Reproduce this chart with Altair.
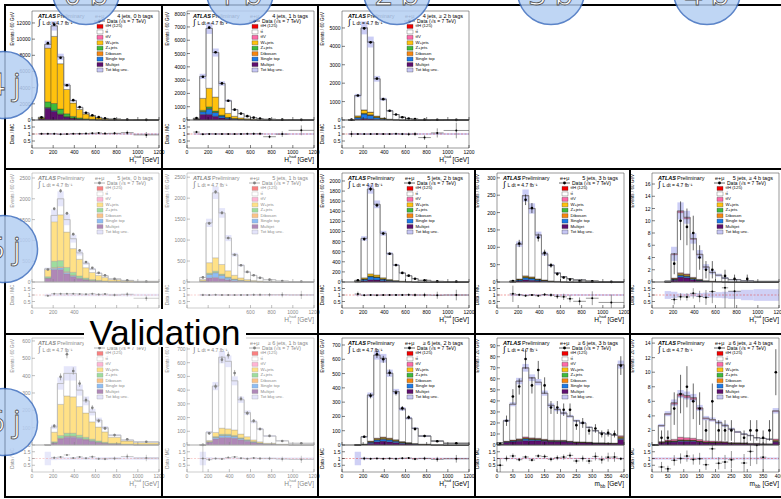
import math
import altair as alt
import pandas as pd

W, H = 781, 499
FONT = "Liberation Sans"

# ---------------- bin edges ----------------
EDGES_4J = [60, 120, 180, 240, 300, 360, 420, 480, 540, 600, 660, 720, 840, 960, 1200]
EDGES_5J = [120, 180, 240, 300, 360, 420, 480, 540, 600, 660, 720, 840, 960, 1200]
EDGES_6J = [120, 180, 240, 300, 360, 420, 480, 540, 600, 660, 720, 840, 960, 1200]
EDGES_MBB = [0, 20, 40, 60, 80, 100, 120, 140, 160, 180, 200, 220, 240, 260, 280, 300, 320, 340, 360, 380, 400]

# ---------------- 4 jets, 0 b ----------------
DATA_4J0B = [330, 9500, 11800, 7700, 4300, 2450, 1600, 900, 590, 350, 200, 110, 57, 20]
MJ_4J0B = [150, 1450, 1050, 650, 350, 200, 110, 60, 35, 20, 12, 6, 3, 1]
ST_4J0B = [5, 60, 80, 60, 40, 25, 15, 8, 5, 3, 2, 1, 0.5, 0.2]
DB_4J0B = [5, 40, 60, 50, 35, 22, 14, 8, 5, 3, 2, 1, 0.5, 0.2]
ZJ_4J0B = [40, 700, 850, 600, 350, 200, 120, 70, 45, 30, 18, 10, 5, 2]
WJ_4J0B = [120, 6650, 8300, 5600, 3000, 1650, 1050, 580, 380, 220, 130, 70, 35, 15]
TT_4J0B = [5, 450, 1300, 850, 550, 300, 250, 150, 90, 50, 30, 17, 8, 3]
UNC_4J0B = 0.05
# ---------------- 4 jets, 1 b ----------------
DATA_4J1B = [150, 3250, 6950, 5100, 2750, 1450, 780, 480, 290, 180, 110, 48, 25, 13]
MJ_4J1B = [60, 420, 420, 280, 150, 80, 45, 25, 15, 9, 5, 3, 1, 0.5]
ST_4J1B = [5, 200, 400, 280, 150, 80, 45, 25, 15, 9, 5, 3, 1.5, 0.5]
DB_4J1B = [2, 30, 50, 35, 20, 12, 7, 4, 2, 1, 1, 0.5, 0.2, 0.1]
ZJ_4J1B = [5, 80, 120, 80, 45, 25, 15, 8, 5, 3, 2, 1, 0.5, 0.2]
WJ_4J1B = [30, 900, 1400, 1050, 530, 300, 170, 95, 60, 35, 20, 12, 5, 2]
TT_4J1B = [30, 1650, 4500, 3350, 1850, 950, 500, 320, 190, 120, 75, 40, 17, 7]
UNC_4J1B = 0.06
# ---------------- 4 jets, >=2 b ----------------
DATA_4J2B = [20, 1330, 4980, 4220, 2250, 1130, 500, 300, 150, 80, 45, 19, 11, 5]
MJ_4J2B = [5, 40, 80, 60, 30, 15, 8, 4, 2, 1, 0.6, 0.3, 0.1, 0.05]
ST_4J2B = [2, 90, 250, 200, 100, 50, 22, 12, 7, 4, 2, 1, 0.5, 0.2]
DB_4J2B = [0.5, 5, 15, 12, 6, 3, 1.5, 0.8, 0.4, 0.2, 0.1, 0.05, 0.02, 0.01]
ZJ_4J2B = [0.5, 10, 20, 15, 8, 4, 2, 1, 0.5, 0.3, 0.2, 0.1, 0.05, 0.02]
WJ_4J2B = [2, 80, 180, 140, 70, 35, 15, 8, 5, 3, 2, 1, 0.5, 0.2]
TTV_4J2B = [0, 1, 5, 5, 3, 2, 1, 0.5, 0.3, 0.2, 0.1, 0.05, 0.02, 0.01]
TT_4J2B = [10, 1100, 4450, 3800, 2020, 1020, 450, 270, 135, 72, 40, 23, 9, 3.5]
TTH_4J2B = [0, 0.5, 2, 2, 1.5, 1, 0.5, 0.3, 0.2, 0.1, 0.05, 0.02, 0.01, 0.005]
UNC_4J2B = 0.07
# ---------------- 5 jets, 0 b ----------------
DATA_5J0B = [300, 1760, 2190, 1650, 1150, 760, 480, 340, 220, 160, 75, 40, 12]
MJ_5J0B = [90, 300, 300, 200, 130, 80, 50, 30, 20, 12, 7, 4, 2]
ST_5J0B = [5, 30, 40, 30, 20, 12, 8, 5, 3, 2, 1, 0.5, 0.2]
DB_5J0B = [3, 20, 25, 20, 13, 9, 6, 4, 2, 1.5, 1, 0.5, 0.2]
ZJ_5J0B = [30, 150, 150, 100, 70, 45, 30, 20, 13, 9, 5, 3, 1]
WJ_5J0B = [170, 950, 1100, 850, 570, 400, 250, 170, 120, 85, 42, 22, 9]
TT_5J0B = [20, 150, 385, 300, 237, 154, 106, 81, 52, 40, 19, 8, 3.6]
UNC_5J0B = 0.09
# ---------------- 5 jets, 1 b ----------------
DATA_5J1B = [110, 1400, 2150, 1650, 1050, 650, 400, 240, 160, 100, 55, 25, 10]
MJ_5J1B = [20, 100, 110, 80, 50, 30, 18, 11, 7, 4, 2, 1, 0.5]
ST_5J1B = [5, 80, 110, 80, 50, 30, 18, 10, 6, 4, 2, 1, 0.4]
DB_5J1B = [1, 6, 8, 6, 4, 2, 1.5, 1, 0.5, 0.3, 0.2, 0.1, 0.05]
ZJ_5J1B = [3, 25, 30, 22, 14, 9, 5, 3, 2, 1.5, 0.8, 0.4, 0.2]
WJ_5J1B = [30, 250, 320, 230, 150, 90, 55, 33, 22, 14, 7, 3, 1.3]
TT_5J1B = [50, 950, 1550, 1230, 780, 490, 300, 180, 120, 75, 42, 19, 7.5]
UNC_5J1B = 0.07
# ---------------- 5 jets, 2 b ----------------
DATA_5J2B = [35, 850, 1840, 1520, 960, 560, 335, 180, 125, 65, 33, 13, 6]
MJ_5J2B = [5, 25, 45, 40, 25, 15, 9, 5, 3, 2, 1, 0.4, 0.2]
ST_5J2B = [3, 30, 60, 50, 32, 18, 10, 6, 4, 2, 1, 0.4, 0.2]
DB_5J2B = [0.5, 3, 6, 5, 3, 2, 1, 0.6, 0.4, 0.2, 0.1, 0.05, 0.02]
ZJ_5J2B = [1, 5, 10, 8, 5, 3, 2, 1, 0.6, 0.3, 0.2, 0.1, 0.05]
WJ_5J2B = [3, 20, 40, 35, 20, 12, 7, 4, 2.5, 1.5, 0.8, 0.3, 0.15]
TT_5J2B = [20, 780, 1680, 1400, 880, 510, 305, 162, 113, 59, 30, 12, 5.4]
UNC_5J2B = 0.05
# ---------------- 5 jets, 3 b ----------------
DATA_5J3B = [3, 111, 237, 213, 128, 84, 48, 23, 13, 7, 3, 2, 0.5]
MJ_5J3B = [0.5, 3, 6, 5, 3, 2, 1, 0.6, 0.4, 0.2, 0.1, 0.05, 0.02]
ST_5J3B = [0.3, 3, 6, 5, 3, 2, 1, 0.6, 0.3, 0.2, 0.1, 0.05, 0.02]
DB_5J3B = [0.05, 0.5, 1, 0.8, 0.5, 0.3, 0.2, 0.1, 0.05, 0.03, 0.02, 0.01, 0.005]
ZJ_5J3B = [0.1, 0.5, 1, 0.8, 0.5, 0.3, 0.2, 0.1, 0.05, 0.03, 0.02, 0.01, 0.005]
WJ_5J3B = [0.3, 1.5, 3, 2.5, 1.5, 1, 0.5, 0.3, 0.2, 0.1, 0.05, 0.02, 0.01]
TTV_5J3B = [0, 0.3, 0.8, 0.7, 0.5, 0.3, 0.2, 0.1, 0.05, 0.03, 0.02, 0.01, 0.005]
TT_5J3B = [1.5, 100, 230, 196, 126, 75, 45, 24, 14, 9.2, 5.5, 2.5, 1.1]
TTH_5J3B = [0, 0.5, 1.2, 1.0, 0.6, 0.4, 0.2, 0.1, 0.05, 0.03, 0.02, 0.01, 0.005]
UNC_5J3B = 0.07
# ---------------- 5 jets, >=4 b ----------------
DATA_5J4B = [0, 3, 10, 9, 8, 4, 2, 2, 0, 1, 0.5, 0.5, 0]
MJ_5J4B = [0.02, 0.3, 0.8, 0.7, 0.4, 0.2, 0.1, 0.08, 0.05, 0.03, 0.02, 0.01, 0.005]
ST_5J4B = [0.01, 0.15, 0.3, 0.25, 0.15, 0.1, 0.05, 0.03, 0.02, 0.01, 0.005, 0.003, 0.001]
DB_5J4B = [0, 0.02, 0.05, 0.04, 0.02, 0.01, 0.005, 0.003, 0.002, 0.001, 0.001, 0, 0]
ZJ_5J4B = [0, 0.03, 0.06, 0.05, 0.03, 0.02, 0.01, 0.005, 0.003, 0.002, 0.001, 0, 0]
WJ_5J4B = [0.01, 0.1, 0.2, 0.18, 0.1, 0.06, 0.03, 0.02, 0.01, 0.005, 0.003, 0.001, 0.001]
TTV_5J4B = [0, 0.05, 0.1, 0.1, 0.06, 0.04, 0.02, 0.01, 0.01, 0.005, 0.003, 0.001, 0.001]
TT_5J4B = [0.1, 3.8, 9.8, 9.0, 6.2, 4.0, 2.2, 1.4, 1.0, 0.58, 0.35, 0.18, 0.09]
TTH_5J4B = [0, 0.15, 0.3, 0.25, 0.15, 0.1, 0.05, 0.03, 0.02, 0.01, 0.005, 0.003, 0.001]
UNC_5J4B = [0.3, 0.25, 0.12, 0.1, 0.12, 0.15, 0.18, 0.2, 0.22, 0.25, 0.3, 0.4, 0.45]
# ---------------- >=6 jets, 0 b ----------------
DATA_6J0B = [0, 110, 393, 523, 427, 354, 259, 215, 140, 96, 57, 33, 19]
MJ_6J0B = [0.5, 12, 35, 45, 45, 38, 30, 22, 15, 10, 6, 3, 1.5]
ST_6J0B = [0, 1, 3, 4, 4, 3, 2.5, 2, 1.5, 1, 0.6, 0.3, 0.15]
DB_6J0B = [0, 1, 2.5, 3, 3, 2.5, 2, 1.5, 1, 0.7, 0.4, 0.2, 0.1]
ZJ_6J0B = [0.2, 5, 14, 16, 16, 13, 10, 8, 6, 4, 2.5, 1.2, 0.6]
WJ_6J0B = [1, 55, 180, 215, 210, 165, 140, 100, 80, 60, 35, 18, 11]
TT_6J0B = [0.3, 30, 120, 130, 135, 95, 70, 56, 40, 24, 12, 6, 5]
UNC_6J0B = [0.5, 0.12, 0.1, 0.1, 0.1, 0.1, 0.1, 0.1, 0.1, 0.1, 0.1, 0.1, 0.1]
# ---------------- >=6 jets, 1 b ----------------
DATA_6J1B = [1, 85, 427, 622, 655, 524, 337, 232, 176, 117, 66, 29, 12]
MJ_6J1B = [0.3, 20, 45, 55, 55, 50, 38, 28, 18, 11, 6, 3, 1.3]
ST_6J1B = [0, 3, 10, 14, 14, 12, 9, 6, 4, 2.5, 1.5, 0.7, 0.3]
DB_6J1B = [0, 0.5, 1.5, 2, 2, 1.8, 1.3, 1, 0.6, 0.4, 0.2, 0.1, 0.05]
ZJ_6J1B = [0, 1.5, 5, 7, 7, 6, 4.5, 3.5, 2.5, 1.5, 0.8, 0.4, 0.2]
WJ_6J1B = [0.2, 8, 30, 45, 40, 40, 27, 22, 12, 8, 4, 2, 1]
TT_6J1B = [0.5, 60, 338, 517, 492, 358, 250, 175, 133, 93, 53, 24, 10]
UNC_6J1B = [0.5, 0.1, 0.07, 0.07, 0.07, 0.07, 0.07, 0.07, 0.07, 0.07, 0.08, 0.08, 0.08]
# ---------------- >=6 jets, 2 b ----------------
DATA_6J2B = [0, 58, 345, 635, 600, 506, 366, 257, 194, 112, 63, 26, 12]
MJ_6J2B = [0, 3, 12, 22, 27, 22, 17, 11, 8, 5, 3, 1.2, 0.5]
ST_6J2B = [0, 2, 8, 13, 14, 13, 10, 6, 4, 2.5, 1.5, 0.6, 0.3]
DB_6J2B = [0, 0.3, 1.5, 2.5, 3, 3, 2.5, 1.5, 1, 0.6, 0.4, 0.2, 0.1]
ZJ_6J2B = [0, 0.3, 1, 1.5, 2, 1.5, 1.2, 1, 0.7, 0.4, 0.3, 0.1, 0.05]
WJ_6J2B = [0, 1, 4, 7, 8, 7, 5, 3.5, 2.5, 1.5, 1, 0.4, 0.2]
TTV_6J2B = [0, 0.2, 1, 2, 2, 1.8, 1.4, 1, 0.7, 0.4, 0.3, 0.1, 0.05]
TT_6J2B = [0.2, 51, 322, 580, 550, 453, 336, 228, 170, 106, 56, 25, 11]
TTH_6J2B = [0, 0.1, 0.5, 1.2, 1.3, 1.2, 1, 0.7, 0.5, 0.3, 0.2, 0.1, 0.05]
UNC_6J2B = [0.5, 0.08, 0.05, 0.05, 0.05, 0.05, 0.05, 0.05, 0.05, 0.05, 0.06, 0.06, 0.06]
# ---------------- >=6 jets, 3 b (m_bb) ----------------
DATA_6J3B = [1, 22, 44, 53, 78, 54, 68, 54, 34, 34, 32, 32, 18, 20, 13, 15, 10, 11, 10, 72]
MJ_6J3B = [0.5, 2.5, 3, 3.5, 4, 4, 4, 3.5, 3, 3, 3, 2.5, 2, 2, 1.8, 1.5, 1.5, 1.3, 1.2, 5]
ST_6J3B = [0.2, 0.4, 0.6, 0.8, 1.5, 1, 0.8, 0.7, 0.5, 0.5, 0.5, 0.4, 0.3, 0.3, 0.3, 0.2, 0.2, 0.2, 0.2, 1]
DB_6J3B = [0, 0.1, 0.2, 0.3, 0.3, 0.3, 0.3, 0.2, 0.2, 0.2, 0.2, 0.1, 0.1, 0.1, 0.1, 0.1, 0.1, 0.1, 0.1, 0.5]
ZJ_6J3B = [0, 0.1, 0.1, 0.2, 0.2, 0.2, 0.2, 0.1, 0.1, 0.1, 0.1, 0.1, 0.1, 0.1, 0.1, 0.05, 0.05, 0.05, 0.05, 0.3]
WJ_6J3B = [0, 0.2, 0.3, 0.4, 0.5, 0.5, 0.4, 0.4, 0.3, 0.3, 0.3, 0.2, 0.2, 0.2, 0.2, 0.1, 0.1, 0.1, 0.1, 0.8]
TTV_6J3B = [0, 0.2, 0.3, 0.4, 0.8, 0.5, 0.4, 0.3, 0.3, 0.2, 0.2, 0.2, 0.2, 0.1, 0.1, 0.1, 0.1, 0.1, 0.1, 0.8]
TT_6J3B = [1.3, 18.4, 32.3, 52.1, 62.3, 54.1, 50.6, 41.5, 31.4, 27.7, 24.5, 22.4, 19, 17.1, 13.3, 10.85, 8.9, 8.1, 7.2, 64]
TTH_6J3B = [0, 0.1, 0.2, 0.3, 0.4, 0.4, 0.3, 0.3, 0.2, 0.2, 0.2, 0.1, 0.1, 0.1, 0.1, 0.1, 0.05, 0.05, 0.05, 0.5]
UNC_6J3B = 0.05
# ---------------- >=6 jets, >=4 b (m_bb) ----------------
DATA_6J4B = [0, 1, 1, 5, 7, 8, 6, 5, 2, 6, 2, 2, 2, 0, 1, 2, 2, 1, 2, 10]
MJ_6J4B = [0, 0.3, 0.4, 0.4, 0.5, 0.5, 0.5, 0.4, 0.3, 0.3, 0.3, 0.3, 0.2, 0.2, 0.2, 0.15, 0.15, 0.1, 0.1, 0.4]
ST_6J4B = [0, 0.05, 0.08, 0.1, 0.12, 0.1, 0.1, 0.08, 0.06, 0.05, 0.05, 0.04, 0.03, 0.03, 0.02, 0.02, 0.02, 0.02, 0.02, 0.1]
DB_6J4B = [0, 0.01, 0.02, 0.02, 0.03, 0.03, 0.02, 0.02, 0.02, 0.02, 0.02, 0.01, 0.01, 0.01, 0.01, 0.01, 0.01, 0.01, 0.01, 0.05]
ZJ_6J4B = [0, 0.01, 0.02, 0.02, 0.02, 0.02, 0.02, 0.02, 0.01, 0.01, 0.01, 0.01, 0.01, 0.01, 0.01, 0.01, 0.01, 0.01, 0.01, 0.03]
WJ_6J4B = [0, 0.02, 0.03, 0.04, 0.05, 0.05, 0.04, 0.04, 0.03, 0.03, 0.03, 0.02, 0.02, 0.02, 0.02, 0.01, 0.01, 0.01, 0.01, 0.08]
TTV_6J4B = [0, 0.08, 0.12, 0.2, 0.35, 0.3, 0.25, 0.2, 0.15, 0.12, 0.1, 0.08, 0.06, 0.05, 0.04, 0.03, 0.03, 0.03, 0.02, 0.15]
TT_6J4B = [0, 2.13, 3.51, 4.82, 5.63, 5.5, 5.32, 4.16, 3.01, 2.87, 2.51, 2.18, 1.82, 1.44, 1.17, 1.05, 0.76, 0.71, 0.61, 3.79]
TTH_6J4B = [0, 0.08, 0.12, 0.2, 0.3, 0.3, 0.25, 0.18, 0.12, 0.1, 0.08, 0.06, 0.05, 0.04, 0.03, 0.03, 0.02, 0.02, 0.02, 0.1]
UNC_6J4B = 0.08

# ---------------- legend / colours ----------------
STACK_ORDER = ["Multijet", "Single top", "Diboson", "Z+jets", "W+jets", "tt̄V", "tt̄", "tt̄H (125)"]
LEGEND_ITEMS = ["tt̄H (125)", "tt̄", "tt̄V", "W+jets", "Z+jets", "Diboson", "Single top", "Multijet", "Tot bkg unc."]
LEGEND_COLORS = ["#f20000", "#ffffff", "#ff6aa8", "#ffc20e", "#3dbb3d", "#f7860f", "#1c7ae8", "#5e0f6e", "#c6c6f4"]
DATA_LABEL = "Data (√s = 7 TeV)"
LEGEND_ROWS = [DATA_LABEL] + LEGEND_ITEMS
RATIO_TICKS = [0.5, 1, 1.5]
RATIO_TICK_LABELS = ["0.5", "1", "1.5"]

# panel registry: key, row, col, header, edges, y max, y step, variable
PANELS = [
    ("4j0b", 0, 0, "4 jets, 0 b tags", EDGES_4J, 13480, 2000, "ht"),
    ("4j1b", 0, 1, "4 jets, 1 b tags", EDGES_4J, 8200, 1000, "ht"),
    ("4j2b", 0, 2, "4 jets, ≥ 2 b tags", EDGES_4J, 5920, 1000, "ht"),
    ("5j0b", 1, 0, "5 jets, 0 b tags", EDGES_5J, 2620, 500, "ht"),
    ("5j1b", 1, 1, "5 jets, 1 b tags", EDGES_5J, 2600, 500, "ht"),
    ("5j2b", 1, 2, "5 jets, 2 b tags", EDGES_5J, 2158, 200, "ht"),
    ("5j3b", 1, 3, "5 jets, 3 b tags", EDGES_5J, 314, 50, "ht"),
    ("5j4b", 1, 4, "5 jets, ≥ 4 b tags", EDGES_5J, 17.8, 2, "ht"),
    ("6j0b", 2, 0, "≥ 6 jets, 0 b tags", EDGES_6J, 617, 100, "ht"),
    ("6j1b", 2, 1, "≥ 6 jets, 1 b tags", EDGES_6J, 780, 100, "ht"),
    ("6j2b", 2, 2, "≥ 6 jets, 2 b tags", EDGES_6J, 749, 100, "ht"),
    ("6j3b", 2, 3, "≥ 6 jets, 3 b tags", EDGES_MBB, 97, 10, "mbb"),
    ("6j4b", 2, 4, "≥ 6 jets, ≥ 4 b tags", EDGES_MBB, 14.7, 2, "mbb"),
]

G = globals()


def comps_for(key):
    K = key.upper()
    names = {"Multijet": "MJ", "Single top": "ST", "Diboson": "DB", "Z+jets": "ZJ",
             "W+jets": "WJ", "tt̄V": "TTV", "tt̄": "TT", "tt̄H (125)": "TTH"}
    out = {}
    for comp, pre in names.items():
        nm = f"{pre}_{K}"
        if nm in G:
            out[comp] = G[nm]
    return out, G[f"DATA_{K}"], G[f"UNC_{K}"]


# ---------------- layout geometry ----------------
ROW_TOP = [11, 173, 338]
ROW_ZERO = [120, 282, 445]
ROW_RBOT = [148, 308, 472]
COL_LEFT = [32, 187, 342, 497, 652]
PW = 127
FADED = {(1, 0), (1, 1), (2, 0), (2, 1)}

ONE = pd.DataFrame({"k": [0]})
COLOR_SCALE = alt.Scale(domain=LEGEND_ITEMS, range=LEGEND_COLORS)
BOX = "M-1,-0.667L1,-0.667L1,0.667L-1,0.667Z"


def txt(x, y, s, size, align="left", baseline="middle", weight="normal", style="normal",
        color="black", font=FONT, **kw):
    return alt.Chart(ONE).mark_text(text=s, fontSize=size, align=align, baseline=baseline,
                                    fontWeight=weight, fontStyle=style, color=color, font=font,
                                    **kw).encode(x=alt.value(x), y=alt.value(y))


def line(x1, x2, y1, y2, color="black", width=2):
    return alt.Chart(ONE).mark_rule(color=color, strokeWidth=width).encode(
        x=alt.value(x1), x2=alt.value(x2), y=alt.value(y1), y2=alt.value(y2))


def fmt(v):
    return str(int(v)) if float(v).is_integer() else str(v)


def panel(key, row, col, header, edges, ymax, ystep, var):
    comps, data, unc = comps_for(key)
    n = len(edges) - 1
    uncs = unc if isinstance(unc, list) else [unc] * n
    L = COL_LEFT[col]
    R = L + PW
    top, zero, rbot = ROW_TOP[row], ROW_ZERO[row], ROW_RBOT[row]
    xmax = 400 if var == "mbb" else 1200
    xstep = 50 if var == "mbb" else 200
    unit = 20 if var == "mbb" else 60

    # stacked components
    base = [0.0] * n
    rows = []
    for comp in STACK_ORDER:
        vals = comps.get(comp)
        if vals is None:
            continue
        for i in range(n):
            rows.append(dict(x0=edges[i], x1=edges[i + 1], y0=min(base[i], ymax),
                             y1=min(base[i] + vals[i], ymax), comp=comp))
            base[i] += vals[i]
    stack_df = pd.DataFrame(rows)
    tot = base

    brow = []
    for i in range(n):
        d = data[i]
        t = tot[i]
        u = uncs[i]
        e = math.sqrt(d) if d > 0 else 0
        rec = dict(x0=edges[i], x1=edges[i + 1], xc=0.5 * (edges[i] + edges[i + 1]),
                   lo=t * (1 - u), hi=min(t * (1 + u), ymax), d=d,
                   elo=max(d - e, 0), ehi=min(d + e, ymax),
                   rblo=max(1 - u, 0), rbhi=min(1 + u, 2))
        if d > 0 and t > 0:
            r = d / t
            re = e / t
            rec.update(r=r, rlo=max(r - re, 0), rhi=min(r + re, 2))
        else:
            rec.update(r=None, rlo=None, rhi=None)
        brow.append(rec)
    bins_df = pd.DataFrame(brow)
    data_df = bins_df[bins_df["d"] > 0]
    ratio_df = bins_df[(bins_df["r"].notna()) & (bins_df["r"] < 2)]

    opts = []
    k = 0
    opts.append(dict(i=k, ox=edges[0], oy=0)); k += 1
    for i in range(n):
        opts.append(dict(i=k, ox=edges[i], oy=min(tot[i], ymax))); k += 1
        opts.append(dict(i=k, ox=edges[i + 1], oy=min(tot[i], ymax))); k += 1
    opts.append(dict(i=k, ox=edges[-1], oy=0))
    out_df = pd.DataFrame(opts)

    xs = alt.Scale(domain=[0, xmax], range=[L, R], nice=False, zero=False)
    ys = alt.Scale(domain=[0, ymax], range=[zero, top], nice=False, zero=False)
    rs = alt.Scale(domain=[0, 2], range=[rbot, zero], nice=False, zero=False)

    yvals = []
    v = 0
    while v <= ymax + 1e-9:
        yvals.append(v)
        v += ystep
    ytick_df = pd.DataFrame({"v": yvals, "t": [fmt(a) for a in yvals]})
    xvals = list(range(0, xmax + 1, xstep))
    xtick_df = pd.DataFrame({"v": xvals, "t": [str(a) for a in xvals]})
    rtick_df = pd.DataFrame({"v": RATIO_TICKS, "t": RATIO_TICK_LABELS})

    X = lambda f: alt.X(f, scale=xs, axis=None)
    Y = lambda f: alt.Y(f, scale=ys, axis=None)
    RY = lambda f: alt.Y(f, scale=rs, axis=None)

    bars = alt.Chart(stack_df).mark_rect(stroke="#1a1a1a", strokeWidth=0.3).encode(
        x=X("x0:Q"), x2="x1:Q", y=Y("y0:Q"), y2="y1:Q",
        fill=alt.Fill("comp:N", scale=COLOR_SCALE, legend=None))
    band = alt.Chart(bins_df).mark_rect(color="#a9abee", opacity=0.6).encode(
        x=X("x0:Q"), x2="x1:Q", y=Y("lo:Q"), y2="hi:Q")
    outline = alt.Chart(out_df).mark_line(color="#707070", strokeWidth=0.8).encode(
        x=X("ox:Q"), y=Y("oy:Q"), order=alt.Order("i:Q"))
    err = alt.Chart(data_df).mark_rule(color="black", strokeWidth=0.6).encode(
        x=X("xc:Q"), y=Y("elo:Q"), y2="ehi:Q")
    pts = alt.Chart(data_df).mark_point(filled=True, color="black", size=7, opacity=1).encode(
        x=X("xc:Q"), y=Y("d:Q"))
    frame = alt.Chart(pd.DataFrame({"a": [0], "b": [xmax], "c": [0], "e": [ymax]})).mark_rect(
        filled=False, stroke="#555555", strokeWidth=0.6).encode(
        x=X("a:Q"), x2="b:Q", y=Y("c:Q"), y2="e:Q")
    # y axis of the main pad: ticks, labels, title
    yticks = alt.Chart(ytick_df).mark_rule(color="black", strokeWidth=0.5).encode(
        y=Y("v:Q"), x=alt.value(L), x2=alt.value(L + 3))
    ylabels = alt.Chart(ytick_df).mark_text(align="right", baseline="middle", fontSize=5,
                                            color="black", font=FONT).encode(
        y=Y("v:Q"), x=alt.value(L - 1.5), text="t:N")
    xticks_main = alt.Chart(xtick_df).mark_rule(color="black", strokeWidth=0.5).encode(
        x=X("v:Q"), y=alt.value(zero), y2=alt.value(zero - 3))
    ytitle = txt(L - 19, top + 1, f"Events / {unit} GeV", 4.6, align="right", angle=270)
    main_texts = [
        txt(L + 6, top + 4.5, "ATLAS", 5.5, weight="bold", style="italic"),
        txt(L + 25, top + 4.5, "Preliminary", 5.5),
        txt(L + 6, top + 11.5, "∫", 8),
        txt(L + 10.5, top + 11.5, "L dt = 4.7 fb⁻¹", 5),
        txt(L + 63, top + 4.5, "e+μ", 5.5),
        txt(R - 6, top + 4.5, header, 5.5, align="right"),
    ]
    main = alt.layer(bars, band, outline, err, pts, frame, yticks, ylabels, xticks_main,
                     ytitle, *main_texts)

    # ratio pad
    rband = alt.Chart(bins_df).mark_rect(color="#b5b7f0", opacity=0.65).encode(
        x=X("x0:Q"), x2="x1:Q", y=RY("rblo:Q"), y2="rbhi:Q")
    one = alt.Chart(pd.DataFrame({"a": [0], "b": [xmax], "o": [1]})).mark_rule(
        color="#e04040", strokeWidth=0.5, strokeDash=[2, 1.5]).encode(
        x=X("a:Q"), x2="b:Q", y=RY("o:Q"))
    rv = alt.Chart(ratio_df).mark_rule(color="#333333", strokeWidth=0.5).encode(
        x=X("xc:Q"), y=RY("rlo:Q"), y2="rhi:Q")
    rh = alt.Chart(ratio_df).mark_rule(color="#333333", strokeWidth=0.5).encode(
        x=X("x0:Q"), x2="x1:Q", y=RY("r:Q"))
    rp = alt.Chart(ratio_df).mark_point(filled=True, color="black", size=4, opacity=1).encode(
        x=X("xc:Q"), y=RY("r:Q"))
    rframe = alt.Chart(pd.DataFrame({"a": [0], "b": [xmax], "c": [0], "e": [2]})).mark_rect(
        filled=False, stroke="#555555", strokeWidth=0.6).encode(
        x=X("a:Q"), x2="b:Q", y=RY("c:Q"), y2="e:Q")
    rticks = alt.Chart(rtick_df).mark_rule(color="black", strokeWidth=0.5).encode(
        y=RY("v:Q"), x=alt.value(L), x2=alt.value(L + 3))
    rlabels = alt.Chart(rtick_df).mark_text(align="right", baseline="middle", fontSize=5,
                                            color="black", font=FONT).encode(
        y=RY("v:Q"), x=alt.value(L - 1.5), text="t:N")
    xticks = alt.Chart(xtick_df).mark_rule(color="black", strokeWidth=0.5).encode(
        x=X("v:Q"), y=alt.value(rbot), y2=alt.value(rbot - 3))
    xlabels = alt.Chart(xtick_df).mark_text(align="center", baseline="top", fontSize=5,
                                            color="black", font=FONT).encode(
        x=X("v:Q"), y=alt.value(rbot + 2), text="t:N")
    rtitle = txt(L - 19, (zero + rbot) / 2, "Data / MC", 4.6, align="center", angle=270)
    ty = rbot + 14
    if var == "mbb":
        xt = [txt(R, ty, "[GeV]", 6.5, align="right", baseline="alphabetic"),
              txt(R - 24, ty, "m", 6.5, align="right", baseline="alphabetic"),
              txt(R - 23.7, ty + 1.5, "bb", 4.5, baseline="alphabetic")]
    else:
        xt = [txt(R, ty, "[GeV]", 6.5, align="right", baseline="alphabetic"),
              txt(R - 25, ty, "H", 6.5, align="right", baseline="alphabetic"),
              txt(R - 24.7, ty + 1.5, "T", 4, baseline="alphabetic"),
              txt(R - 24.7, ty - 3.8, "had", 4, baseline="alphabetic")]
    ratio = alt.layer(rband, one, rv, rh, rp, rframe, rticks, rlabels, xticks, xlabels,
                      rtitle, *xt)

    # legend
    leg_df = pd.DataFrame({"label": LEGEND_ROWS})
    lys = alt.Scale(type="point", domain=LEGEND_ROWS, range=[top + 10, top + 59], padding=0)
    LY = alt.Y("label:N", scale=lys, axis=None)
    ltext = alt.Chart(leg_df).transform_filter(alt.datum.label != DATA_LABEL).mark_text(
        align="left", baseline="middle", fontSize=4.3, color="black", font=FONT).encode(
        x=alt.value(L + 73.5), y=LY, text="label:N")
    dtext = alt.Chart(leg_df).transform_filter(alt.datum.label == DATA_LABEL).mark_text(
        align="left", baseline="middle", fontSize=5, color="black", font=FONT).encode(
        x=alt.value(L + 75), y=LY, text="label:N")
    boxes = alt.Chart(leg_df).transform_filter(alt.datum.label != DATA_LABEL).mark_point(
        shape=BOX, filled=True, size=36, stroke="#222222", strokeWidth=0.3, opacity=1).encode(
        x=alt.value(L + 68), y=LY, fill=alt.Fill("label:N", scale=COLOR_SCALE, legend=None))
    dline = alt.Chart(leg_df).transform_filter(alt.datum.label == DATA_LABEL).mark_rule(
        color="black", strokeWidth=0.6).encode(x=alt.value(L + 62), x2=alt.value(L + 73), y=LY)
    dpt = alt.Chart(leg_df).transform_filter(alt.datum.label == DATA_LABEL).mark_point(
        filled=True, color="black", size=8, opacity=1).encode(x=alt.value(L + 67.5), y=LY)
    legend = alt.layer(boxes, ltext, dline, dpt, dtext)
    return [main, ratio, legend]


children = []
for p in PANELS:
    children.extend(panel(*p))

# fade the cells that are not used
CELL_X = [5, 162, 318, 475, 630, 781]
CELL_Y = [5, 169, 334, 497]
for (r, c) in sorted(FADED):
    children.append(alt.Chart(ONE).mark_rect(color="white", opacity=0.5).encode(
        x=alt.value(CELL_X[c] + 1), x2=alt.value(CELL_X[c + 1] - 1),
        y=alt.value(CELL_Y[r] + 1), y2=alt.value(CELL_Y[r + 1] - 1)))

# cell borders
for y in CELL_Y:
    children.append(line(4, 781, y, y))
for x in [5, 162, 318]:
    children.append(line(x, x, 4, 498))
for x in [475, 630]:
    children.append(line(x, x, 169, 498))

# "Validation" label
children.append(alt.Chart(ONE).mark_rect(color="white").encode(
    x=alt.value(84), x2=alt.value(246), y=alt.value(309), y2=alt.value(347)))
children.append(txt(165, 345, "Validation", 35, align="center", baseline="alphabetic"))

# category bubbles
BUBBLES_LEFT = [("4 j", 4, 85), ("5 j", 4, 249), ("6 j", 4, 422)]
BUBBLES_TOP = [("0 b", 86, -9), ("1 b", 240, -9), ("2 b", 397, -9), ("3 b", 551, -9), ("4 b", 707, -9)]
for lab, cx, cy in BUBBLES_LEFT + BUBBLES_TOP:
    children.append(alt.Chart(ONE).mark_circle(size=4500, color="#b5cff3", opacity=0.85,
                                               stroke="#3f6fbf", strokeWidth=1.5).encode(
        x=alt.value(cx), y=alt.value(cy)))
    ty = cy + 1 if cy > 0 else cy + 5
    children.append(txt(cx, ty, lab, 31, align="center", color="white", font="Open Sans",
                        stroke="#505050", strokeWidth=0.8))

chart = alt.layer(*children).resolve_scale(x="independent", y="independent").properties(
    width=W, height=H, padding=0, autosize="none", background="white"
).configure(font=FONT).configure_view(stroke=None)

chart.save("out.html", embed_options={"renderer": "svg", "actions": False})
